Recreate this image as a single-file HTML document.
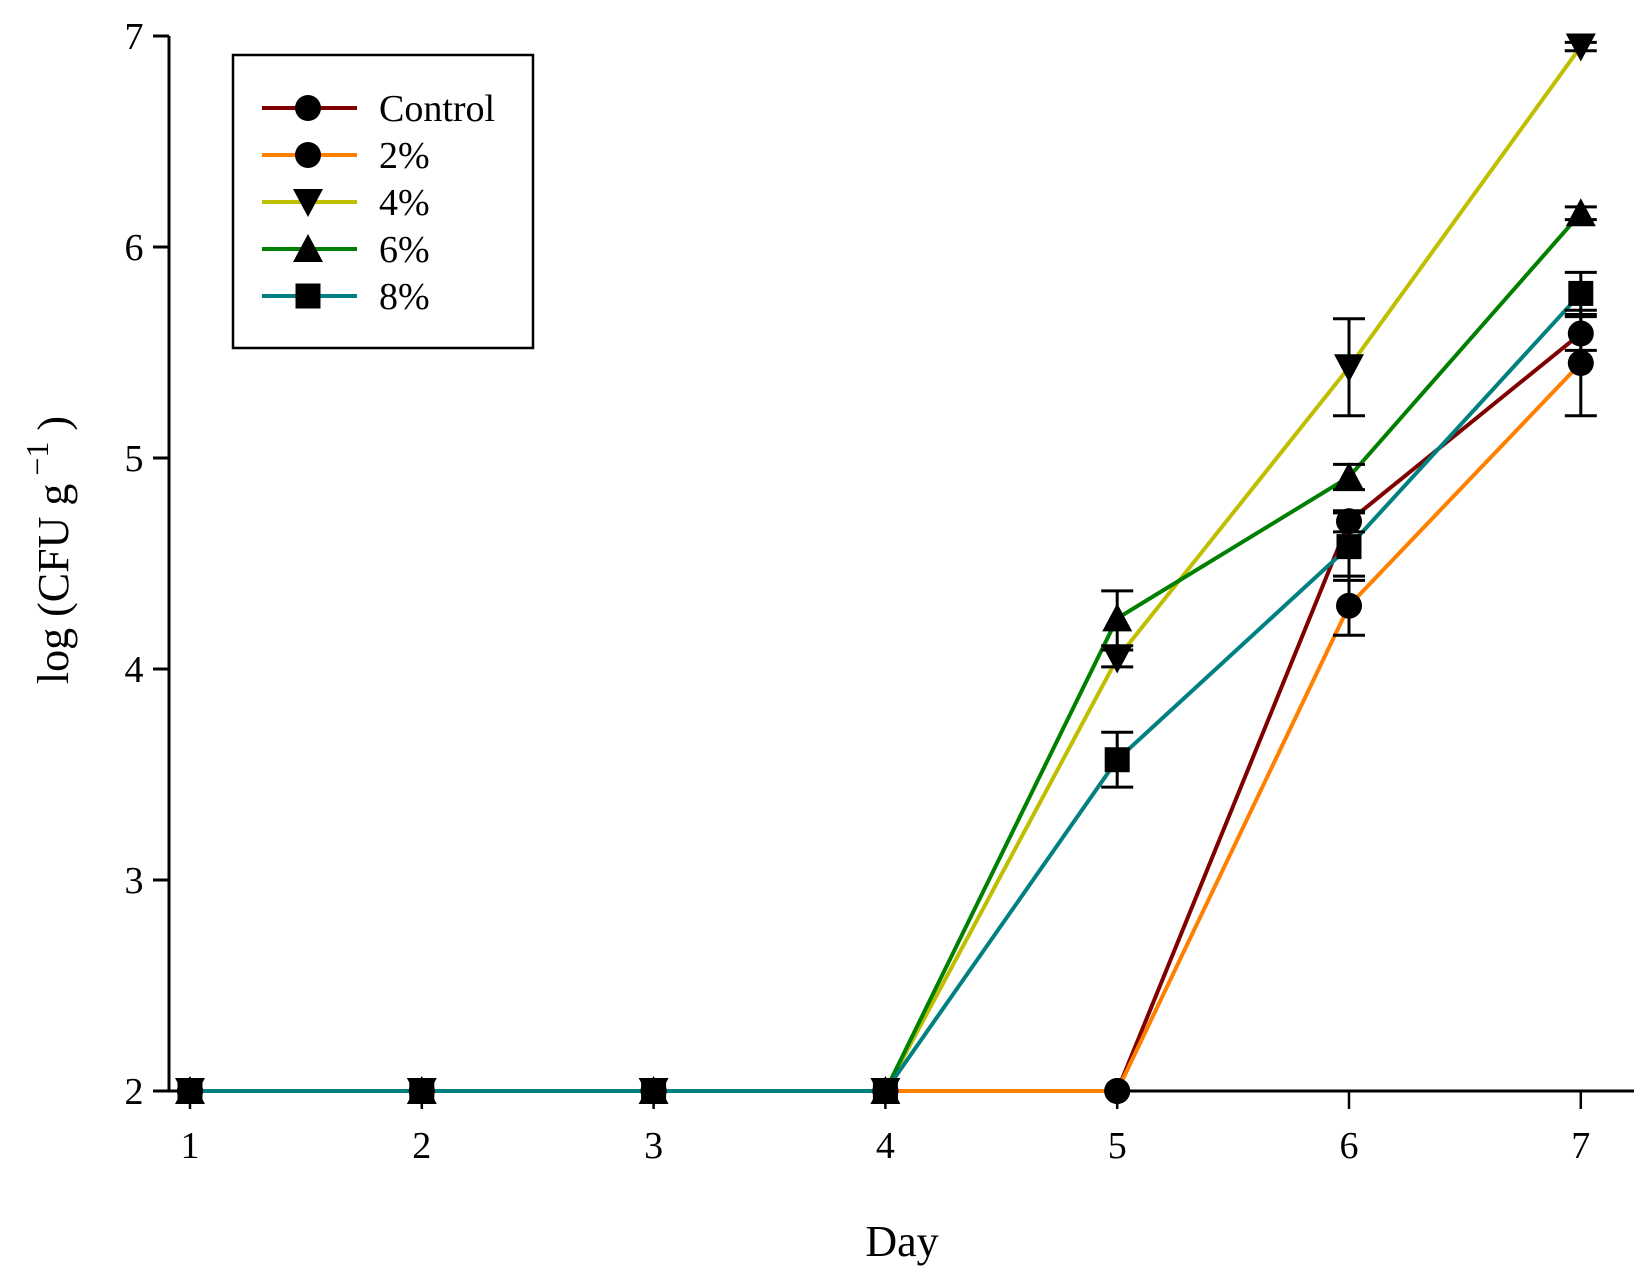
<!DOCTYPE html>
<html><head><meta charset="utf-8"><style>
html,body{margin:0;padding:0;background:#fff;}
svg{display:block;font-family:"Liberation Serif",serif;}
</style></head><body>
<svg id="chart" width="1647" height="1279" viewBox="0 0 1647 1279">
<g id="axes"></g>
<g id="series"></g>
<g id="legend"></g>
<text x="902" y="1256" font-size="44" text-anchor="middle">Day</text>
<text transform="translate(68,550) rotate(-90)" font-size="44" text-anchor="middle">log (CFU g<tspan dy="-20" font-size="32"> −1</tspan><tspan dy="20"> )</tspan></text>
</svg>
<script>
const days = [1,2,3,4,5,6,7];
const seriesNames = ["Control","2%","4%","6%","8%"];
const controlVals = [2,2,2,2,2,4.70,5.59];
const controlErr = [0,0,0,0,0,0.05,0.08];
const p2Vals = [2,2,2,2,2,4.30,5.45];
const p2Err = [0,0,0,0,0,0.14,0.25];
const p4Vals = [2,2,2,2,4.05,5.43,6.95];
const p4Err = [0,0,0,0,0.04,0.23,0.02];
const p6Vals = [2,2,2,2,4.24,4.91,6.16];
const p6Err = [0,0,0,0,0.13,0.06,0.03];
const p8Vals = [2,2,2,2,3.57,4.58,5.78];
const p8Err = [0,0,0,0,0.13,0.16,0.10];
const yTicks = [2,3,4,5,6,7];

const NS="http://www.w3.org/2000/svg";
const X = d => 190 + (d-1)*231.8;
const Y = v => 1091 - (v-2)*211;
function mk(tag, attrs, parent){const e=document.createElementNS(NS,tag);for(const k in attrs)e.setAttribute(k,attrs[k]);parent.appendChild(e);return e;}

const axes=document.getElementById('axes');
let a=mk('line',{x1:169,y1:Y(7),x2:169,y2:Y(2),stroke:'#000','stroke-width':3},axes);


a=mk('line',{x1:153,y1:Y(2),x2:1634,y2:Y(2),stroke:'#000','stroke-width':3},axes);


yTicks.forEach(t=>{
  mk('line',{x1:153,y1:Y(t),x2:169,y2:Y(t),stroke:'#000','stroke-width':3},axes);
  const tx=mk('text',{x:134,y:Y(t)+13,'font-size':38,'text-anchor':'middle'},axes);
  tx.textContent=t;
  
  
});
days.forEach(d=>{
  mk('line',{x1:X(d),y1:Y(2),x2:X(d),y2:Y(2)+18,stroke:'#000','stroke-width':2.5},axes);
  const tx=mk('text',{x:X(d),y:Y(2)+67,'font-size':38,'text-anchor':'middle'},axes);
  tx.textContent=d;
  
  
});

function marker(shape,cx,cy,g){
  if(shape==='circle') return mk('circle',{cx:cx,cy:cy,r:13,fill:'#000'},g);
  if(shape==='down') return mk('polygon',{points:`${cx-15},${cy-13} ${cx+15},${cy-13} ${cx},${cy+15}`,fill:'#000'},g);
  if(shape==='up') return mk('polygon',{points:`${cx-15},${cy+13} ${cx+15},${cy+13} ${cx},${cy-15}`,fill:'#000'},g);
  return mk('rect',{x:cx-12.5,y:cy-12.5,width:25,height:25,fill:'#000'},g);
}
const S=[
 {vals:controlVals,err:controlErr,color:'#800000',shape:'circle',name:'control'},
 {vals:p2Vals,err:p2Err,color:'#ff8000',shape:'circle',name:'2-percent'},
 {vals:p4Vals,err:p4Err,color:'#bfbf00',shape:'down',name:'4-percent'},
 {vals:p6Vals,err:p6Err,color:'#008000',shape:'up',name:'6-percent'},
 {vals:p8Vals,err:p8Err,color:'#008080',shape:'square',name:'8-percent'}
];
const sg=document.getElementById('series');
S.forEach(s=>{
  const g=mk('g',{},sg);
  
  
  const pts=days.map((d,i)=>X(d)+','+Y(s.vals[i])).join(' ');
  const pl=mk('polyline',{points:pts,fill:'none',stroke:s.color,'stroke-width':4},g);
  
  
});
S.forEach(s=>{
  const g=mk('g',{},sg);
  
  
  days.forEach((d,i)=>{
    const cx=X(d),v=s.vals[i],e=s.err[i];
    if(e>0){
      const t=Y(v+e),b=Y(v-e);
      mk('line',{x1:cx,y1:t,x2:cx,y2:b,stroke:'#000','stroke-width':3},g);
      mk('line',{x1:cx-16,y1:t,x2:cx+16,y2:t,stroke:'#000','stroke-width':3},g);
      mk('line',{x1:cx-16,y1:b,x2:cx+16,y2:b,stroke:'#000','stroke-width':3},g);
    }
    const m=marker(s.shape,cx,Y(v),g);
    
    
  });
});

const lg=document.getElementById('legend');
const box=mk('rect',{x:233,y:55,width:300,height:293,fill:'#fff',stroke:'#000','stroke-width':2.5},lg);


S.forEach((s,i)=>{
  const y=108+i*47;
  const g=mk('g',{},lg);
  
  
  mk('line',{x1:262,y1:y,x2:357,y2:y,stroke:s.color,'stroke-width':4},g);
  marker(s.shape,308,y,g);
  const t=mk('text',{x:379,y:y+13,'font-size':38},g);
  t.textContent=seriesNames[i];
});
</script>
</body></html>
